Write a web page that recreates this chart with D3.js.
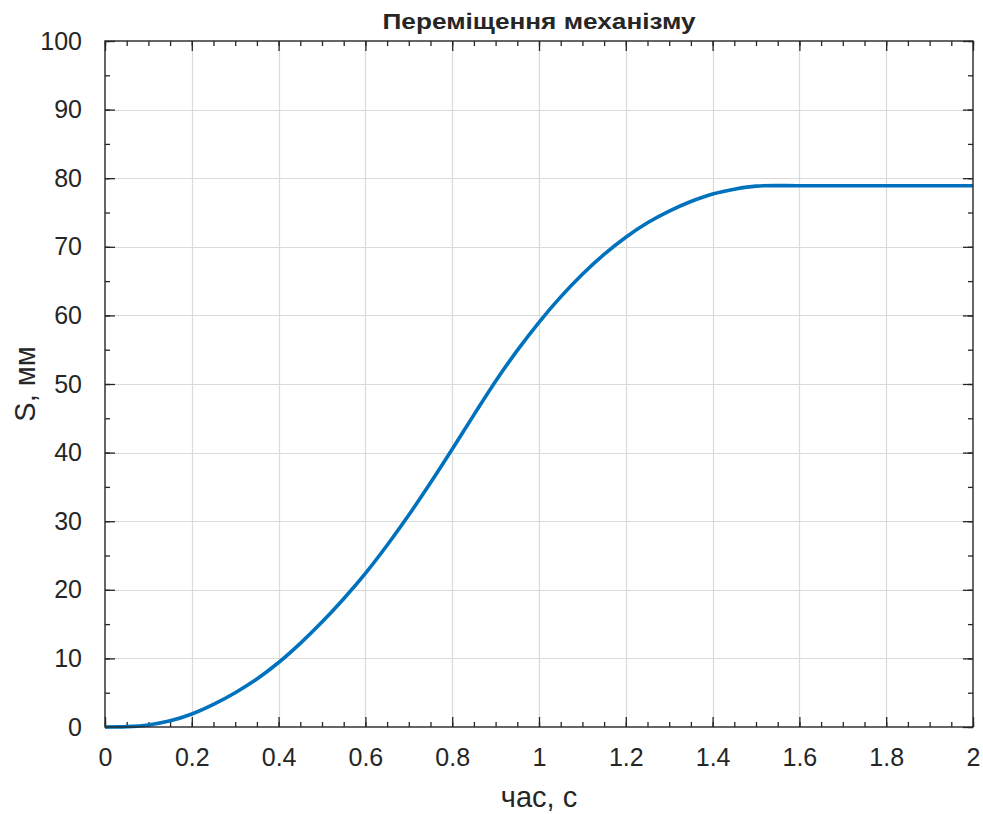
<!DOCTYPE html>
<html><head><meta charset="utf-8">
<script src="https://cdn.jsdelivr.net/npm/d3@7"></script>
<style>
html,body{margin:0;padding:0;background:#fff;}
text{font-family:"Liberation Sans",Arial,Helvetica,sans-serif;fill:#262626;}
</style></head>
<body><svg id="c" width="983" height="814"></svg>
<script>
const timeValues = [0,0.05,0.1,0.15,0.2,0.25,0.3,0.35,0.4,0.45,0.5,0.55,0.6,0.65,0.7,0.75,0.8,0.85,0.9,0.95,1.0,1.05,1.1,1.15,1.2,1.25,1.3,1.35,1.4,1.45,1.5,1.6,1.7,1.8,1.9,2.0];
const sValues    = [0,0.05,0.3,0.9,1.9,3.3,5.0,7.0,9.4,12.2,15.3,18.7,22.4,26.5,30.9,35.6,40.5,45.5,50.4,54.9,59.0,62.7,66.0,68.9,71.4,73.5,75.2,76.6,77.7,78.4,78.85,78.9,78.9,78.9,78.9,78.9];
const xTicks = [0,0.2,0.4,0.6,0.8,1,1.2,1.4,1.6,1.8,2];
const yTicks = [0,10,20,30,40,50,60,70,80,90,100];
const titleText = "Переміщення механізму";
const xLabel = "час, с";
const yLabel = "S, мм";

const L=105, T=41, W=868, H=686;
const svg=d3.select("#c");
const x=d3.scaleLinear().domain([0,2]).range([L,L+W]);
const y=d3.scaleLinear().domain([0,100]).range([T+H,T]);

// grid
const g=svg.append("g");
g.selectAll(".gx").data(xTicks.slice(1,-1)).join("line")
 .attr("x1",d=>Math.round(x(d))+0.5).attr("x2",d=>Math.round(x(d))+0.5)
 .attr("y1",T).attr("y2",T+H).attr("stroke","#dadada").attr("stroke-width",1.2);
g.selectAll(".gy").data(yTicks.slice(1,-1)).join("line")
 .attr("y1",d=>Math.round(y(d))+0.5).attr("y2",d=>Math.round(y(d))+0.5)
 .attr("x1",L).attr("x2",L+W).attr("stroke","#dadada").attr("stroke-width",1.2);

const fmt=d=>String(d);
const axisCol="#262626";
function styleAxis(sel){
  sel.select(".domain").remove();
  sel.selectAll(".tick line").attr("stroke",axisCol).attr("stroke-width",1.3);
  sel.selectAll(".tick text").style("font-size","25px").attr("fill",axisCol);
}
const xMinor=d3.range(0,2.0001,0.05);
const yMinor=d3.range(0,100.001,5);
// minor ticks
svg.append("g").attr("transform",`translate(0,${T+H})`).call(d3.axisTop(x).tickValues(xMinor).tickSize(5).tickFormat("")).call(styleAxis);
svg.append("g").attr("transform",`translate(0,${T})`).call(d3.axisBottom(x).tickValues(xMinor).tickSize(5).tickFormat("")).call(styleAxis);
svg.append("g").attr("transform",`translate(${L},0)`).call(d3.axisRight(y).tickValues(yMinor).tickSize(5).tickFormat("")).call(styleAxis);
svg.append("g").attr("transform",`translate(${L+W},0)`).call(d3.axisLeft(y).tickValues(yMinor).tickSize(5).tickFormat("")).call(styleAxis);
// major ticks with labels
svg.append("g").attr("transform",`translate(0,${T+H})`).call(d3.axisBottom(x).tickValues(xTicks).tickSizeInner(-10).tickSizeOuter(0).tickPadding(21).tickFormat(fmt)).call(styleAxis);
svg.append("g").attr("transform",`translate(0,${T})`).call(d3.axisTop(x).tickValues(xTicks).tickSizeInner(-10).tickSizeOuter(0).tickFormat("")).call(styleAxis);
svg.append("g").attr("transform",`translate(${L},0)`).call(d3.axisLeft(y).tickValues(yTicks).tickSizeInner(-10).tickSizeOuter(0).tickPadding(23).tickFormat(fmt)).call(styleAxis);
svg.append("g").attr("transform",`translate(${L+W},0)`).call(d3.axisRight(y).tickValues(yTicks).tickSizeInner(-10).tickSizeOuter(0).tickFormat("")).call(styleAxis);

// curve
const line=d3.line().x((d,i)=>x(timeValues[i])).y(d=>y(d)).curve(d3.curveCatmullRom.alpha(0.5));
svg.append("path").datum(sValues).attr("d",line).attr("fill","none")
 .attr("stroke","#0072BD").attr("stroke-width",3.6).attr("stroke-linejoin","round");

// frame
svg.append("rect").attr("x",L).attr("y",T).attr("width",W).attr("height",H)
 .attr("fill","none").attr("stroke",axisCol).attr("stroke-width",1.4);

// title & labels
svg.append("text").attr("x",L+W/2).attr("y",29).attr("text-anchor","middle")
 .style("font-size","22px").style("font-weight","bold").attr("fill","#000")
 .attr("textLength",313).attr("lengthAdjust","spacingAndGlyphs").text(titleText);
svg.append("text").attr("x",L+W/2).attr("y",807).attr("text-anchor","middle")
 .style("font-size","29px").text(xLabel);
svg.append("text").attr("transform",`translate(35,${T+H/2}) rotate(-90)`).attr("text-anchor","middle")
 .style("font-size","29px").text(yLabel);
</script></body></html>
